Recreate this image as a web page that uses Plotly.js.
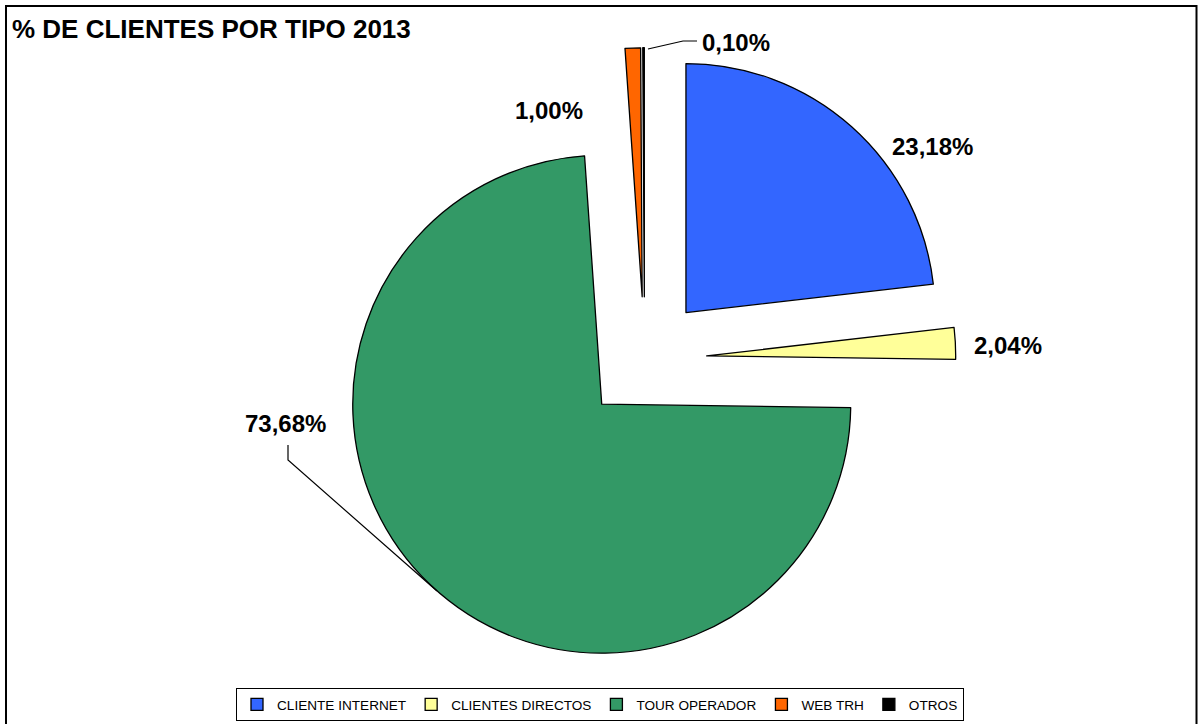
<!DOCTYPE html>
<html>
<head>
<meta charset="utf-8">
<script src="https://cdn.plot.ly/plotly-3.0.1.min.js"></script>
<style>
  html, body { margin: 0; padding: 0; background: #fff; }
  #chart { width: 1198px; height: 724px; }
</style>
</head>
<body>
<div id="chart"></div>
<script>
// ---- data ----
const categories = ['CLIENTE INTERNET', 'CLIENTES DIRECTOS', 'TOUR OPERADOR', 'WEB TRH', 'OTROS'];
const percentages = [23.18, 2.04, 73.68, 1.00, 0.10];
const sliceColors = ['#3366FF', '#FFFF99', '#339966', '#FF6600', '#000000'];
const chartTitle = '% DE CLIENTES POR TIPO 2013';

// ---- layout helpers ----
const W = 1198, H = 724;
const px = x => x / W;
const py = y => 1 - y / H;

// label centres (pixels) for each category, same order as categories
const labelPos = [[932, 146], [1008, 345], [285, 423], [549, 110], [736, 42]];

const fmt = v => v.toFixed(2).replace('.', ',') + '%';

const annotations = percentages.map((v, i) => ({
  xref: 'paper', yref: 'paper',
  x: px(labelPos[i][0]), y: py(labelPos[i][1]),
  xanchor: 'center', yanchor: 'middle',
  text: fmt(v), showarrow: false,
  font: { family: 'Liberation Sans, Arial, sans-serif', size: 24, color: '#000', weight: 'bold' }
}));

const path = pts => pts.map((p, i) => (i ? 'L' : 'M') + px(p[0]) + ',' + py(p[1])).join(' ');

const shapes = [
  { type: 'path', xref: 'paper', yref: 'paper', path: path([[648, 49], [683, 41], [697, 41]]),
    line: { color: '#000', width: 1.2 } },
  { type: 'path', xref: 'paper', yref: 'paper', path: path([[288, 445], [288, 460], [437, 591]]),
    line: { color: '#000', width: 1.2 } },
  { type: 'rect', xref: 'paper', yref: 'paper', x0: px(6), x1: px(1196.5), y0: py(730), y1: py(6),
    line: { color: '#000', width: 2 } }
];

const trace = {
  type: 'pie',
  labels: categories,
  values: percentages,
  sort: false,
  direction: 'clockwise',
  rotation: 0,
  pull: categories.map(() => 0.25),
  marker: { colors: sliceColors, line: { color: '#000', width: 1.3 } },
  textinfo: 'none',
  hoverinfo: 'label+percent',
  domain: { x: [0.2782, 0.7978], y: [0.0742, 0.9341] }
};

const layout = {
  width: W, height: H,
  margin: { l: 0, r: 0, t: 0, b: 0, autoexpand: false },
  paper_bgcolor: '#fff',
  title: {
    text: chartTitle, x: px(12), xanchor: 'left', y: py(29), yanchor: 'middle',
    font: { family: 'Liberation Sans, Arial, sans-serif', size: 26, color: '#000', weight: 'bold' }
  },
  showlegend: true,
  legend: {
    orientation: 'h', x: px(600), xanchor: 'center', y: py(721), yanchor: 'bottom',
    bordercolor: '#000', borderwidth: 1, bgcolor: '#fff',
    font: { family: 'Liberation Sans, Arial, sans-serif', size: 13.6, color: '#000' },
    itemwidth: 30, traceorder: 'normal'
  },
  annotations: annotations,
  shapes: shapes
};

Plotly.newPlot('chart', [trace], layout, { displayModeBar: false, staticPlot: true });
</script>
</body>
</html>
